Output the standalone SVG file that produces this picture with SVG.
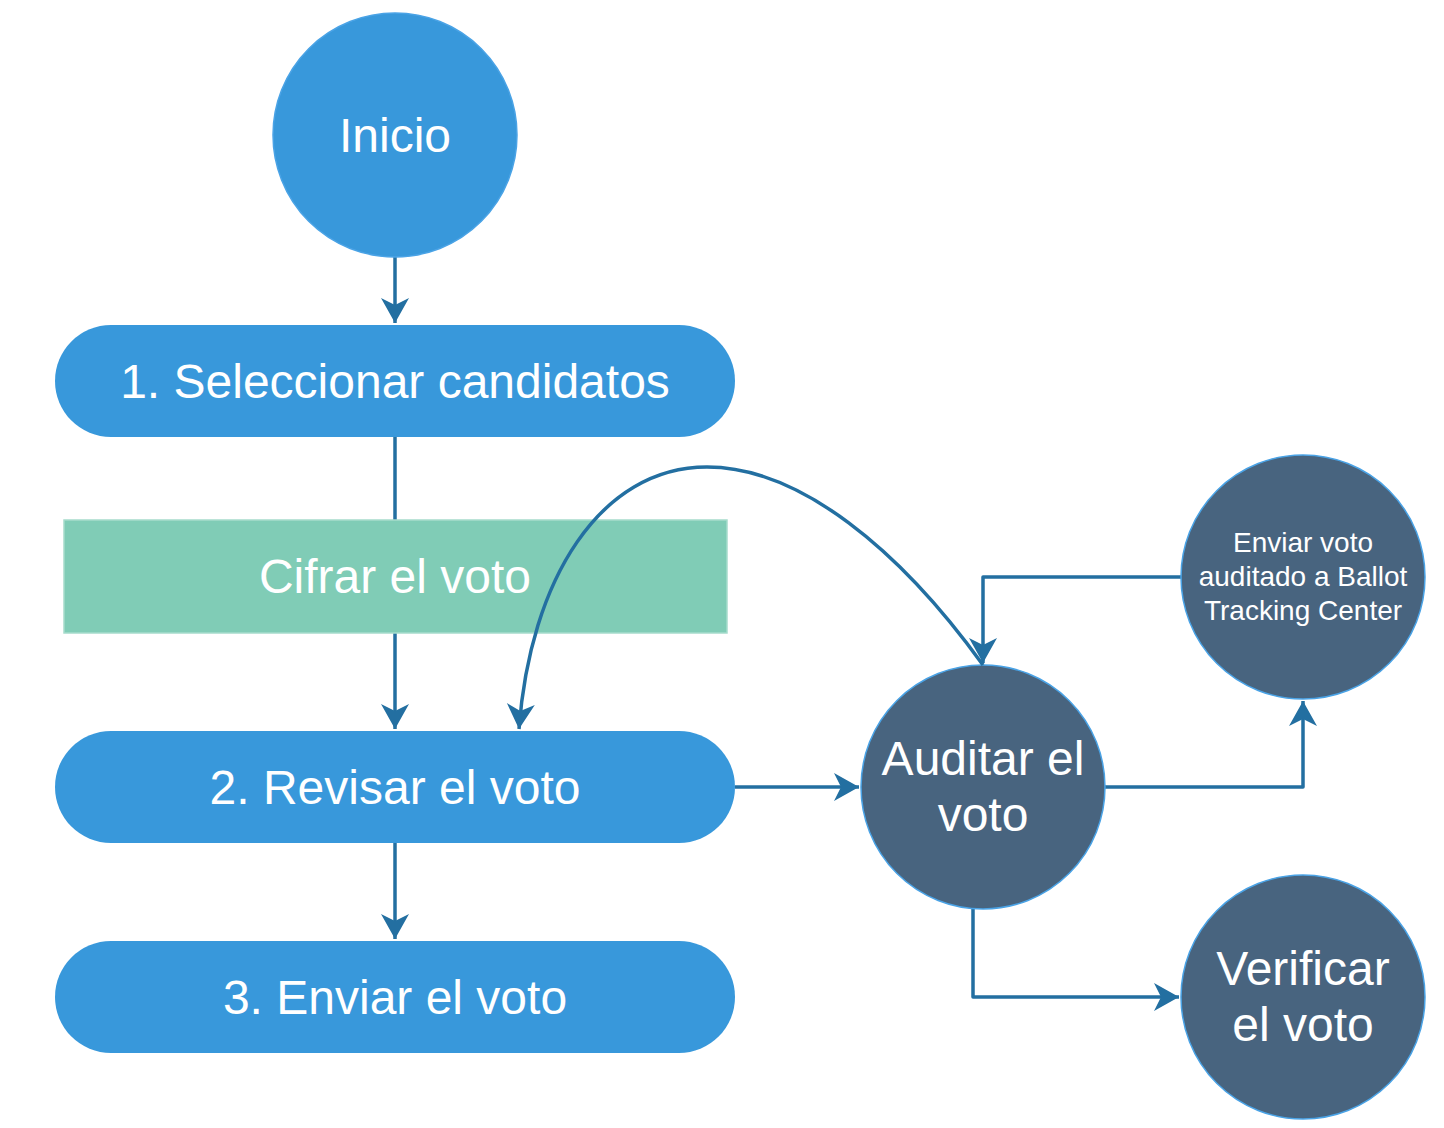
<svg xmlns="http://www.w3.org/2000/svg" width="1444" height="1128" viewBox="0 0 1444 1128">
<defs>
<style>
.pill{fill:#3898db;}
.blue{fill:#3898db;stroke:#4aa3e6;stroke-width:1.5;}
.dark{fill:#48647f;stroke:#4aa3e6;stroke-width:1.5;}
.green{fill:#80ccb6;stroke:#a6dccc;stroke-width:1.5;}
.t{font-family:"Liberation Sans",Arial,sans-serif;fill:#ffffff;text-anchor:middle;}
.big{font-size:48px;}
.small{font-size:28px;}
.edge{fill:none;stroke:#236fa1;stroke-width:3.5;stroke-linejoin:round;}
</style>
<marker id="arr" markerUnits="userSpaceOnUse" markerWidth="30" markerHeight="30" viewBox="-25 -15 27 30" refX="0" refY="0" orient="auto">
<path d="M0,0 L-25,-14 L-18,0 L-25,14 Z" fill="#236fa1"/>
</marker>
</defs>
<g id="connectors">
<path class="edge" d="M395,257 L395,323" marker-end="url(#arr)"/>
<path class="edge" d="M395,437 L395,729" marker-end="url(#arr)"/>
<path class="edge" d="M395,843 L395,939" marker-end="url(#arr)"/>
<path class="edge" d="M735,787 L859,787" marker-end="url(#arr)"/>
<path class="edge" d="M1105,787 L1303,787 L1303,701" marker-end="url(#arr)"/>
<path class="edge" d="M1181,577 L983,577 L983,663" marker-end="url(#arr)"/>
<path class="edge" d="M973,909 L973,997 L1179,997" marker-end="url(#arr)"/>
</g>
<g id="inicio">
<circle class="blue" cx="395" cy="135" r="122"/>
<text class="t big" x="395" y="152">Inicio</text>
</g>
<g id="seleccionar">
<rect class="pill" x="55" y="325" width="680" height="112" rx="56"/>
<text class="t big" x="395" y="398">1. Seleccionar candidatos</text>
</g>
<g id="cifrar">
<rect class="green" x="64" y="520" width="663" height="113"/>
<text class="t big" x="395" y="593">Cifrar el voto</text>
</g>
<g id="revisar">
<rect class="pill" x="55" y="731" width="680" height="112" rx="56"/>
<text class="t big" x="395" y="804">2. Revisar el voto</text>
</g>
<g id="enviar">
<rect class="pill" x="55" y="941" width="680" height="112" rx="56"/>
<text class="t big" x="395" y="1014">3. Enviar el voto</text>
</g>
<g id="auditar">
<circle class="dark" cx="983" cy="787" r="122"/>
<text class="t big" x="983" y="775">Auditar el</text>
<text class="t big" x="983" y="831">voto</text>
</g>
<g id="enviar-auditado">
<circle class="dark" cx="1303" cy="577" r="122"/>
<text class="t small" x="1303" y="552">Enviar voto</text>
<text class="t small" x="1303" y="586">auditado a Ballot</text>
<text class="t small" x="1303" y="620">Tracking Center</text>
</g>
<g id="verificar">
<circle class="dark" cx="1303" cy="997" r="122"/>
<text class="t big" x="1303" y="985">Verificar</text>
<text class="t big" x="1303" y="1041">el voto</text>
</g>
<g id="connectors-over">
<path class="edge" d="M983,665 C900,550 800,467 707,467 C600,467 530,580 519,729" marker-end="url(#arr)"/>
</g>
</svg>
